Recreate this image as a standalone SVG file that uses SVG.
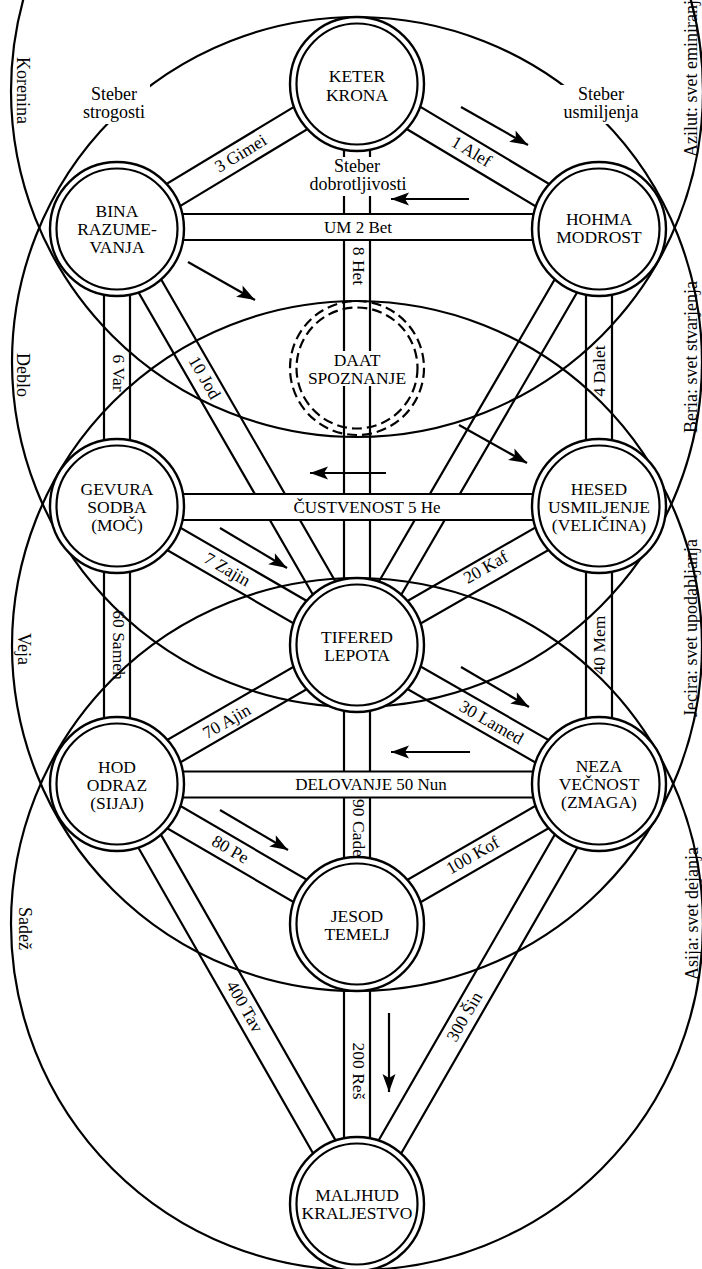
<svg xmlns="http://www.w3.org/2000/svg" width="702" height="1269" viewBox="0 0 702 1269">
<defs>
<style>
.w{fill:none;stroke:#000;stroke-width:2.2}
.c{fill:none;stroke:#000;stroke-width:2.2}
.band{fill:#fff;stroke:none}
.o{fill:#fff;stroke:#000;stroke-width:2.4}
.i{fill:none;stroke:#000;stroke-width:2.2}
.dash{fill:none;stroke:#000;stroke-width:2.2;stroke-dasharray:10 5}
.ar{fill:none;stroke:#000;stroke-width:2.2;marker-end:url(#ah)}
.bg{fill:#fff;stroke:none}
text{font-family:"Liberation Serif","Times New Roman",serif;font-size:17px;fill:#000}
.n{text-anchor:middle;font-size:17.5px}
.l{text-anchor:middle}
.r{text-anchor:middle;font-size:17.5px}
.s{text-anchor:middle;font-size:18px}
.wl{font-size:18px}
</style>
<marker id="ah" markerUnits="userSpaceOnUse" viewBox="0 0 20 14" markerWidth="20" markerHeight="14" refX="19" refY="7" orient="auto"><path d="M19,7 L1,0.5 L5,7 L1,13.5 Z" fill="#000"/></marker>
</defs>
<rect x="0" y="0" width="702" height="1269" fill="#fff"/>

<g id="worlds">
<circle class="w" cx="357" cy="91" r="346"/>
<circle class="w" cx="357" cy="362" r="345"/>
<circle class="w" cx="357" cy="646" r="345"/>
<circle class="w" cx="357" cy="924" r="346"/>
</g>

<g id="connectors">
<path class="c" d="M350.3,95.2 L592.3,240.2 M363.7,72.9 L605.7,217.9"/>
<path class="c" d="M350.3,72.9 L110.3,217.9 M363.7,95.1 L123.7,240.1"/>
<path class="c" d="M344,84 V645 M370,84 V645"/>
<path class="c" d="M104,229 V506 M130,229 V506"/>
<path class="c" d="M586,229 V506 M612,229 V506"/>
<path class="c" d="M105.7,235.5 L345.7,651.5 M128.3,222.5 L368.3,638.5"/>
<path class="c" d="M587.8,222.5 L345.8,638.5 M610.2,235.5 L368.2,651.5"/>
<path class="c" d="M110.5,517.3 L350.5,656.3 M123.5,494.8 L363.5,633.8"/>
<path class="c" d="M592.5,494.7 L350.5,633.7 M605.5,517.3 L363.5,656.3"/>
<path class="c" d="M104,506 V784 M130,506 V784"/>
<path class="c" d="M586,506 V784 M612,506 V784"/>
<path class="c" d="M350.5,656.3 L592.5,795.3 M363.5,633.7 L605.5,772.7"/>
<path class="c" d="M350.5,633.8 L110.5,772.8 M363.5,656.3 L123.5,795.3"/>
<path class="c" d="M110.5,795.2 L350.5,935.2 M123.5,772.8 L363.5,912.8"/>
<path class="c" d="M592.5,772.8 L350.5,912.8 M605.5,795.3 L363.5,935.3"/>
<path class="c" d="M344,645 V924 M370,645 V924"/>
<path class="c" d="M344,924 V1204 M370,924 V1204"/>
<path class="c" d="M587.7,777.5 L345.7,1197.5 M610.3,790.5 L368.3,1210.5"/>
<path class="c" d="M105.7,790.5 L345.7,1210.5 M128.3,777.6 L368.3,1197.6"/>
<rect class="band" x="117" y="214" width="482" height="26"/>
<path class="c" d="M117,214 H599 M117,240 H599"/>
<rect class="band" x="117" y="494" width="482" height="26"/>
<path class="c" d="M117,494 H599 M117,520 H599"/>
<rect class="band" x="117" y="771.5" width="482" height="26"/>
<path class="c" d="M117,771.5 H599 M117,797.5 H599"/>
</g>

<g id="pillars">
<rect class="bg" x="80" y="85" width="70" height="39"/>
<text class="s" x="114" y="100">Steber</text>
<text class="s" x="114" y="118">strogosti</text>
<rect class="bg" x="558" y="85" width="86" height="39"/>
<text class="s" x="601" y="100">Steber</text>
<text class="s" x="601" y="118">usmiljenja</text>
<rect class="bg" x="305" y="157" width="108" height="39"/>
<text class="s" x="357" y="172">Steber</text>
<text class="s" x="358" y="190">dobrotljivosti</text>
</g>

<g id="arrows">
<path class="ar" d="M461,107 L528,145"/>
<path class="ar" d="M469,199 L391,199"/>
<path class="ar" d="M188,262 L255,300"/>
<path class="ar" d="M459,425 L527,463"/>
<path class="ar" d="M386,473 L310,473"/>
<path class="ar" d="M220,528 L287,568"/>
<path class="ar" d="M461,667 L529,707"/>
<path class="ar" d="M470,752 L391,752"/>
<path class="ar" d="M220,810 L288,850"/>
<path class="ar" d="M389,1013 L389,1092"/>
</g>

<g id="keter"><circle class="o" cx="357" cy="84" r="67"/><circle class="i" cx="357" cy="84" r="60.5"/>
<text class="n" x="357" y="82">KETER</text><text class="n" x="357" y="100.5">KRONA</text></g>
<g id="bina"><circle class="o" cx="117" cy="229" r="67"/><circle class="i" cx="117" cy="229" r="60.5"/>
<text class="n" x="117" y="217">BINA</text><text class="n" x="117" y="235">RAZUME-</text><text class="n" x="117" y="253">VANJA</text></g>
<g id="hohma"><circle class="o" cx="599" cy="229" r="67"/><circle class="i" cx="599" cy="229" r="60.5"/>
<text class="n" x="599" y="224.5">HOHMA</text><text class="n" x="599" y="242.5">MODROST</text></g>
<g id="daat"><circle class="dash" cx="357" cy="368" r="67"/><circle class="dash" cx="357" cy="368" r="60.5"/>
<rect class="bg" x="310" y="351" width="95" height="35"/>
<text class="n" x="357" y="365.5">DAAT</text><text class="n" x="357" y="383.5">SPOZNANJE</text></g>
<g id="gevura"><circle class="o" cx="117" cy="506" r="67"/><circle class="i" cx="117" cy="506" r="60.5"/>
<text class="n" x="117" y="494.5">GEVURA</text><text class="n" x="117" y="512.5">SODBA</text><text class="n" x="117" y="530.5">(MOČ)</text></g>
<g id="hesed"><circle class="o" cx="599" cy="506" r="67"/><circle class="i" cx="599" cy="506" r="60.5"/>
<text class="n" x="599" y="495">HESED</text><text class="n" x="599" y="513">USMILJENJE</text><text class="n" x="599" y="531">(VELIČINA)</text></g>
<g id="tifered"><circle class="o" cx="357" cy="645" r="67"/><circle class="i" cx="357" cy="645" r="60.5"/>
<text class="n" x="357" y="643">TIFERED</text><text class="n" x="357" y="661">LEPOTA</text></g>
<g id="hod"><circle class="o" cx="117" cy="784" r="67"/><circle class="i" cx="117" cy="784" r="60.5"/>
<text class="n" x="117" y="772.5">HOD</text><text class="n" x="117" y="790.5">ODRAZ</text><text class="n" x="117" y="808.5">(SIJAJ)</text></g>
<g id="neza"><circle class="o" cx="599" cy="784" r="67"/><circle class="i" cx="599" cy="784" r="60.5"/>
<text class="n" x="599" y="771.5">NEZA</text><text class="n" x="599" y="789.5">VEČNOST</text><text class="n" x="599" y="807.5">(ZMAGA)</text></g>
<g id="jesod"><circle class="o" cx="357" cy="924" r="67"/><circle class="i" cx="357" cy="924" r="60.5"/>
<text class="n" x="357" y="922">JESOD</text><text class="n" x="357" y="940">TEMELJ</text></g>
<g id="maljhud"><circle class="o" cx="357" cy="1204" r="67"/><circle class="i" cx="357" cy="1204" r="60.5"/>
<text class="n" x="357" y="1201">MALJHUD</text><text class="n" x="357" y="1219">KRALJESTVO</text></g>

<g id="path-labels">
<text class="r" transform="translate(241,154) rotate(-31.1)" y="5">3 Gimei</text>
<text class="r" transform="translate(471,152) rotate(30.9)" y="5">1 Alef</text>
<text class="l" x="358" y="232.5">UM 2 Bet</text>
<text class="r" transform="translate(358,266) rotate(90)" y="5">8 Het</text>
<text class="r" transform="translate(118,373) rotate(90)" y="5">6 Var</text>
<text class="r" transform="translate(600,371) rotate(-90)" y="5">4 Dalet</text>
<text class="r" transform="translate(204,378) rotate(60)" y="5">10 Jod</text>
<text class="l" x="367" y="513">ČUSTVENOST 5 He</text>
<text class="r" transform="translate(227,570) rotate(30.1)" y="5">7 Zajin</text>
<text class="r" transform="translate(486,568) rotate(-29.9)" y="5">20 Kaf</text>
<text class="r" transform="translate(118,645) rotate(90)" y="5">60 Sameh</text>
<text class="r" transform="translate(600,645) rotate(-90)" y="5">40 Mem</text>
<text class="r" transform="translate(227,722) rotate(-30.1)" y="5">70 Ajin</text>
<text class="r" transform="translate(491,723) rotate(29.9)" y="5">30 Lamed</text>
<text class="l" x="371" y="790">DELOVANJE 50 Nun</text>
<text class="r" transform="translate(230,850) rotate(30.3)" y="5">80 Pe</text>
<text class="r" transform="translate(358,828) rotate(90)" y="5">90 Cade</text>
<text class="r" transform="translate(473,856) rotate(-30.1)" y="5">100 Kof</text>
<text class="r" transform="translate(244,1007) rotate(60.3)" y="5">400 Tav</text>
<text class="r" transform="translate(358,1071) rotate(90)" y="5">200 Reš</text>
<text class="r" transform="translate(465,1017) rotate(-60.1)" y="5">300 Šin</text>
</g>

<g id="world-labels">
<text class="wl" transform="translate(17,57) rotate(90)">Korenina</text>
<text class="wl" transform="translate(17,353) rotate(90)">Deblo</text>
<text class="wl" transform="translate(18,633) rotate(90)">Veja</text>
<text class="wl" transform="translate(19,907) rotate(90)">Sadež</text>
<text class="wl" transform="translate(697,157) rotate(-90)">Azilut: svet eminiranja</text>
<text class="wl" transform="translate(697,433) rotate(-90)">Beria: svet stvarjenja</text>
<text class="wl" transform="translate(697,717) rotate(-90)">Jecira: svet upodabljanja</text>
<text class="wl" transform="translate(698,980) rotate(-90)">Asija: svet dejanja</text>
</g>
</svg>
